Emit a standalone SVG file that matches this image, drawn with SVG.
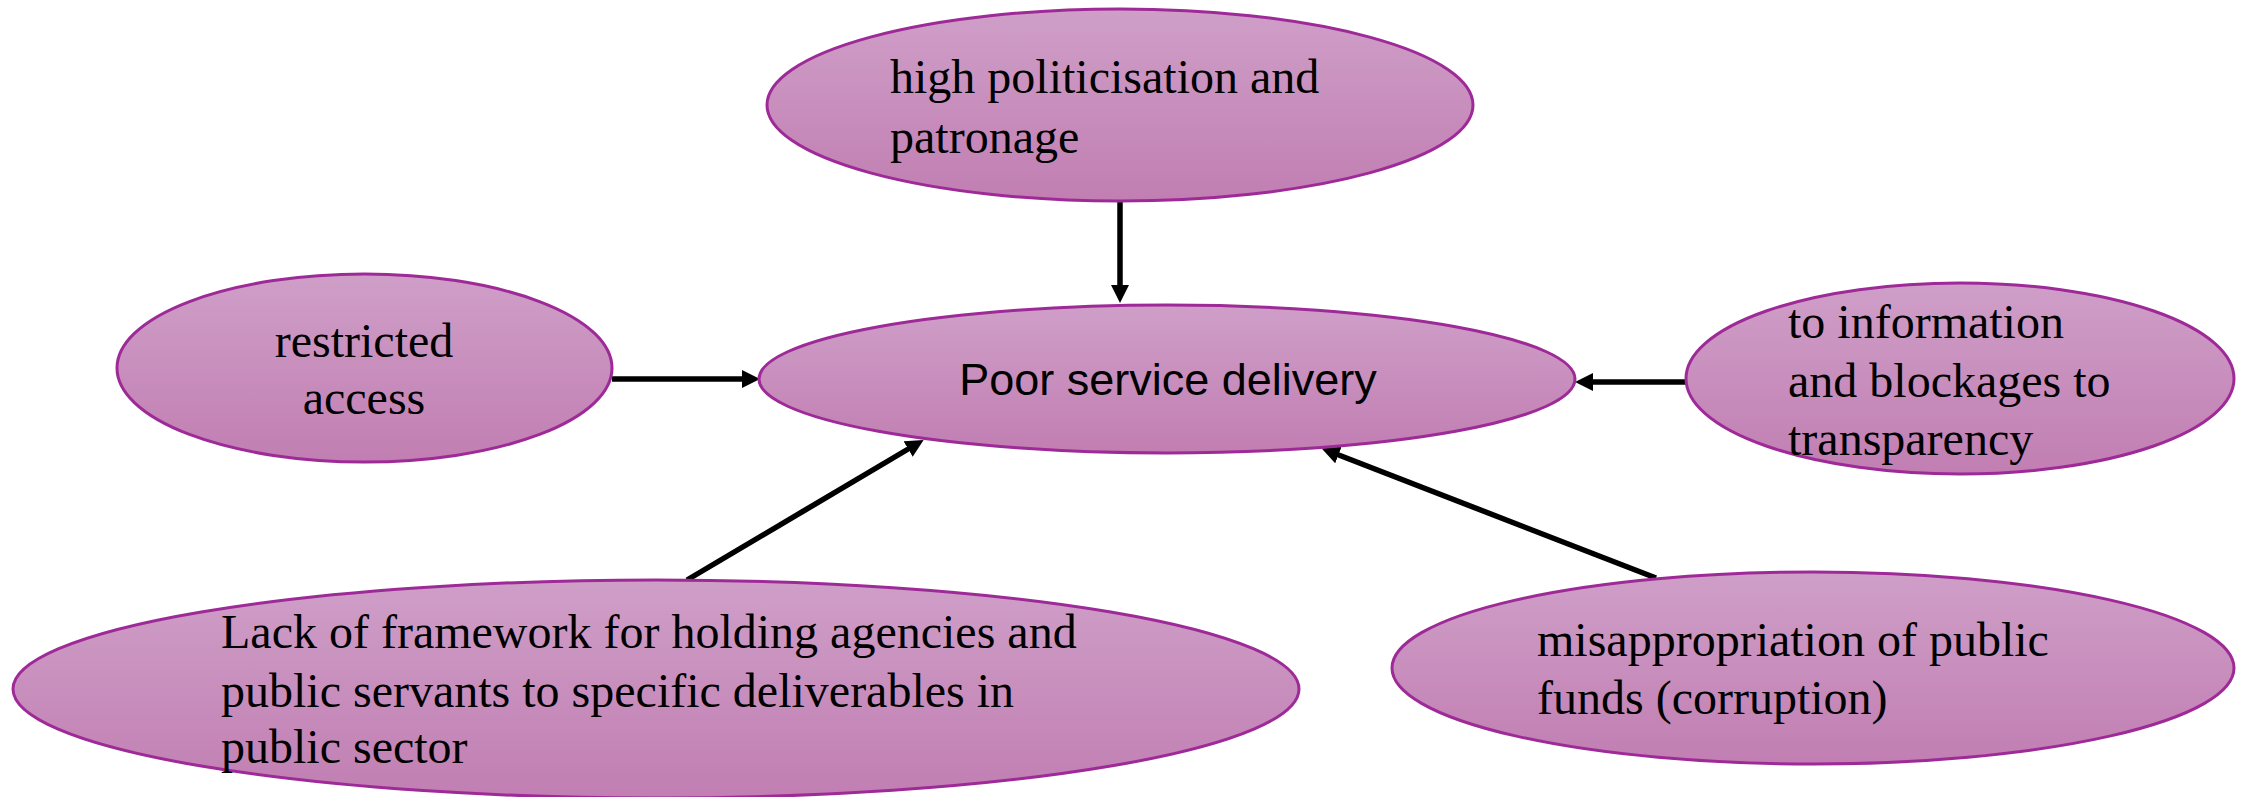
<svg xmlns="http://www.w3.org/2000/svg" width="2244" height="797" viewBox="0 0 2244 797">
  <defs>
    <linearGradient id="fill" x1="0" y1="0" x2="0" y2="1">
      <stop offset="0" stop-color="#CF9FC8"/>
      <stop offset="1" stop-color="#C17EB2"/>
    </linearGradient>
    <marker id="arrow" markerUnits="userSpaceOnUse" viewBox="0 0 18 18" markerWidth="18" markerHeight="18" refX="8" refY="9" orient="auto">
      <path d="M0,0 L18,9 L0,18 Z" fill="#000"/>
    </marker>
  </defs>
  <style>
    .node { fill: url(#fill); stroke: #9E2A98; stroke-width: 3; }
    .serif { font-family: "Liberation Serif", "Times New Roman", serif; font-size: 48px; fill: #000; }
    .sans { font-family: "Liberation Sans", Arial, sans-serif; font-size: 45px; fill: #000; }
    .link { stroke: #000; stroke-width: 5.5; fill: none; marker-end: url(#arrow); }
  </style>
  <rect width="2244" height="797" fill="#FFFFFF"/>

  <g id="connectors">
    <path class="link" d="M1120,202 L1120,293"/>
    <path class="link" d="M612,379 L750,379"/>
    <path class="link" d="M1687,382 L1585,382"/>
    <path class="link" d="M687,580 L915,445"/>
    <path class="link" d="M1656,578 L1331,452"/>
  </g>

  <g id="node-politicisation">
    <ellipse class="node" cx="1120" cy="105" rx="353" ry="96"/>
    <text class="serif" x="890" y="93">high politicisation and</text>
    <text class="serif" x="890" y="153">patronage</text>
  </g>

  <g id="node-restricted">
    <ellipse class="node" cx="364.5" cy="368" rx="247.5" ry="94"/>
    <text class="serif" x="364" y="357" text-anchor="middle">restricted</text>
    <text class="serif" x="364" y="414" text-anchor="middle">access</text>
  </g>

  <g id="node-poor-service">
    <ellipse class="node" cx="1167" cy="379" rx="408" ry="74"/>
    <text class="sans" x="1168" y="395" text-anchor="middle">Poor service delivery</text>
  </g>

  <g id="node-information">
    <ellipse class="node" cx="1960" cy="378.5" rx="274" ry="95.5"/>
    <text class="serif" x="1788" y="338">to information</text>
    <text class="serif" x="1788" y="397">and blockages to</text>
    <text class="serif" x="1788" y="455">transparency</text>
  </g>

  <g id="node-framework">
    <ellipse class="node" cx="656" cy="689" rx="643" ry="109"/>
    <text class="serif" x="221" y="648">Lack of framework for holding agencies and</text>
    <text class="serif" x="221" y="707">public servants to specific deliverables in</text>
    <text class="serif" x="221" y="763">public sector</text>
  </g>

  <g id="node-misappropriation">
    <ellipse class="node" cx="1813" cy="668" rx="421" ry="96"/>
    <text class="serif" x="1537" y="656">misappropriation of public</text>
    <text class="serif" x="1537" y="714">funds (corruption)</text>
  </g>
</svg>
